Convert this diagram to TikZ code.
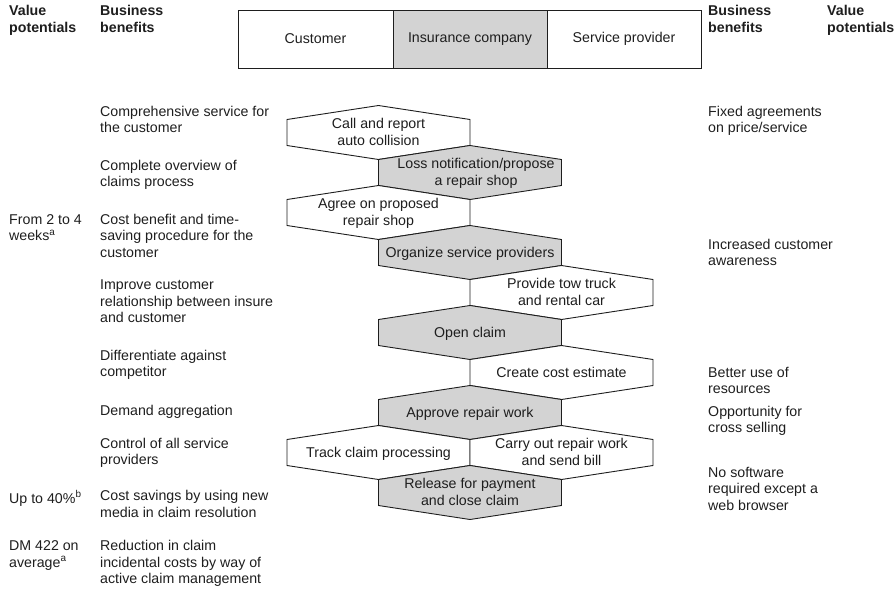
\documentclass[tikz,border=0pt]{standalone}
\usepackage{fontspec}
\setmainfont{Liberation Sans}
\definecolor{shade}{HTML}{D3D3D3}
\definecolor{ink}{HTML}{1E1E1E}
\newcommand\hexcell[6][0]{%
  \draw[hexline, fill=#5] ({#3-91.5},{#4-13}) -- ({#3},{#4-27}) -- ({#3+91.5},{#4-13}) -- ({#3+91.5},{#4+13}) -- ({#3},{#4+27}) -- ({#3-91.5},{#4+13}) -- cycle;
  \node[hextext, xshift=#1pt] (#2) at (#3,#4) {#6};}
\begin{document}
\begin{tikzpicture}[x=1pt,y=-1pt,
  every node/.style={text=ink},
  txt/.style={anchor=north west, inner sep=0pt, align=left, yshift=11.55pt, font=\fontsize{14.2}{16.5}\selectfont, execute at begin node=\strut},
  head/.style={txt, font=\fontsize{14.2}{16.5}\selectfont\bfseries},
  hexline/.style={draw=ink, line width=0.9pt, line join=miter},
  hextext/.style={align=center, inner sep=0pt, yshift=-2pt, font=\fontsize{14.2}{17}\selectfont, execute at begin node=\strut, execute at end node=\strut},
  cell/.style={draw=ink, line width=0.9pt, minimum height=58pt, inner sep=0pt, font=\fontsize{14.2}{17}\selectfont}
]
\useasboundingbox (0,0) rectangle (896,592);

% header table
\node[cell, minimum width=155pt] (cust) at (315.5,39) {Customer};
\node[cell, minimum width=154pt, fill=shade] (ins) at (470,39) {Insurance company};
\node[cell, minimum width=154pt] (serv) at (624,39) {Service provider};

% column headers
\node[head] (vpL) at (9,17) {Value\\potentials};
\node[head] (bbL) at (100,17) {Business\\benefits};
\node[head] (bbR) at (708,17) {Business\\benefits};
\node[head] (vpR) at (827,17) {Value\\potentials};

% process hexagons
\hexcell{h1}{378.5}{132.5}{white}{Call and report\\auto collision}
\hexcell[6]{h2}{470}{172.5}{shade}{Loss notification/propose\\a repair shop}
\hexcell{h3}{378.5}{212.5}{white}{Agree on proposed\\repair shop}
\hexcell{h4}{470}{252.5}{shade}{Organize service providers}
\hexcell{h5}{561.5}{292.5}{white}{Provide tow truck\\and rental car}
\hexcell{h6}{470}{332.5}{shade}{Open claim}
\hexcell{h7}{561.5}{372.5}{white}{Create cost estimate}
\hexcell{h8}{470}{412.5}{shade}{Approve repair work}
\hexcell{h9}{378.5}{452.5}{white}{Track claim processing}
\hexcell{h10}{561.5}{452.5}{white}{Carry out repair work\\and send bill}
\hexcell{h11}{470}{492.5}{shade}{Release for payment\\and close claim}

% left business benefits
\node[txt] (b1) at (100,117.5) {Comprehensive service for\\the customer};
\node[txt] (b2) at (100,171.5) {Complete overview of\\claims process};
\node[txt] (b3) at (100,225.5) {Cost benefit and time-\\saving procedure for the\\customer};
\node[txt] (b4) at (100,291.5) {Improve customer\\relationship between insure\\and customer};
\node[txt] (b5) at (100,361.5) {Differentiate against\\competitor};
\node[txt] (b6) at (100,415.5) {Demand aggregation};
\node[txt] (b7) at (100,449.5) {Control of all service\\providers};
\node[txt] (b8) at (100,502) {Cost savings by using new\\media in claim resolution};
\node[txt] (b9) at (100,552) {Reduction in claim\\incidental costs by way of\\active claim management};

% left value potentials
\node[txt] (v1) at (9,225.5) {From 2 to 4\\weeks\textsuperscript{a}};
\node[txt] (v2) at (9,502) {Up to 40\%\textsuperscript{b}};
\node[txt] (v3) at (9,552) {DM 422 on\\average\textsuperscript{a}};

% right business benefits
\node[txt] (r1) at (708,117.5) {Fixed agreements\\on price/service};
\node[txt] (r2) at (708,250.5) {Increased customer\\awareness};
\node[txt] (r3) at (708,378.5) {Better use of\\resources};
\node[txt] (r4) at (708,417.5) {Opportunity for\\cross selling};
\node[txt] (r5) at (708,478.5) {No software\\required except a\\web browser};
\end{tikzpicture}
\end{document}
